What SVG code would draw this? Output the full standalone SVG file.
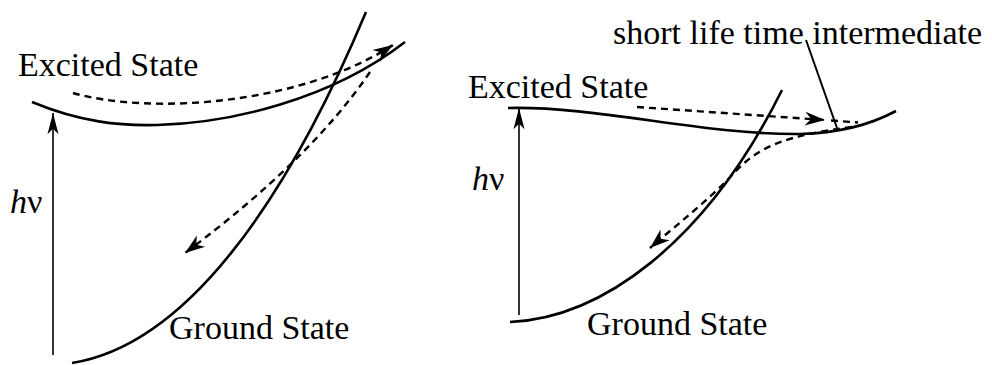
<svg xmlns="http://www.w3.org/2000/svg" width="992" height="365" viewBox="0 0 992 365">
<style>
  .lbl { font-family: "Liberation Serif", "Times New Roman", serif; font-size: 34px; fill: #000; }
  .it { font-style: italic; }
  .curve { fill: none; stroke: #000; stroke-width: 2.6; }
  .dash { fill: none; stroke: #000; stroke-width: 2.4; stroke-dasharray: 7 5; }
  .thin { fill: none; stroke: #000; stroke-width: 1.6; }
  .ptr { fill: none; stroke: #000; stroke-width: 2; }
</style>
<defs>
  <marker id="ah" markerUnits="userSpaceOnUse" markerWidth="24" markerHeight="18" viewBox="-22 -9 24 18" refX="0" refY="0" orient="auto">
    <path d="M0,0 L-20,-7 L-14,0 L-20,7 Z" fill="#000"/>
  </marker>
  <marker id="ahv" markerUnits="userSpaceOnUse" markerWidth="24" markerHeight="16" viewBox="-24 -8 26 16" refX="0" refY="0" orient="auto">
    <path d="M0,0 L-23,-6 L-17,0 L-23,6 Z" fill="#000"/>
  </marker>
</defs>

<!-- Left panel -->
<g id="left-excited">
  <path class="curve" d="M32,102 C80,122 120,126 157,125 C230,123 330,100 405,42"/>
  <text class="lbl" x="18" y="76">Excited State</text>
</g>
<g id="left-ground">
  <path class="curve" d="M72,363 C185,345 285,205 366,12"/>
  <text class="lbl" x="169" y="339">Ground State</text>
</g>
<g id="left-hv">
  <text class="lbl" x="10" y="213"><tspan class="it">h</tspan>ν</text>
</g>

<!-- Right panel -->
<g id="right-excited">
  <path class="curve" d="M508,108 C600,106 700,135 800,134 C840,133 870,125 896,111"/>
  <text class="lbl" x="468" y="98">Excited State</text>
</g>
<g id="right-ground">
  <path class="curve" d="M510,322 C600,318 705,245 782,90"/>
  <text class="lbl" x="587" y="335">Ground State</text>
</g>
<g id="right-hv">
  <text class="lbl" x="472" y="190"><tspan class="it">h</tspan>ν</text>
</g>
<g id="intermediate">
  <text class="lbl" x="613" y="44">short life time intermediate</text>
  <path class="ptr" d="M806,40 L837,128"/>
</g>

<g id="connectors">
  <path class="thin" d="M53,355 L53,113" marker-end="url(#ahv)"/>
  <path class="dash" d="M73,93 C150,115 300,105 393,45" marker-end="url(#ah)"/>
  <path class="dash" d="M370,72 Q310,160 185,253" marker-end="url(#ah)"/>
  <path class="thin" d="M519,315 L519,108" marker-end="url(#ahv)"/>
  <path class="dash" d="M637,107 L825,120" marker-end="url(#ah)"/>
  <path class="dash" d="M831,120.5 L858,122.5"/>
  <path class="dash" d="M852,127 C790,135 760,145 735,172 S680,222 650,248" marker-end="url(#ah)"/>
</g>
</svg>
